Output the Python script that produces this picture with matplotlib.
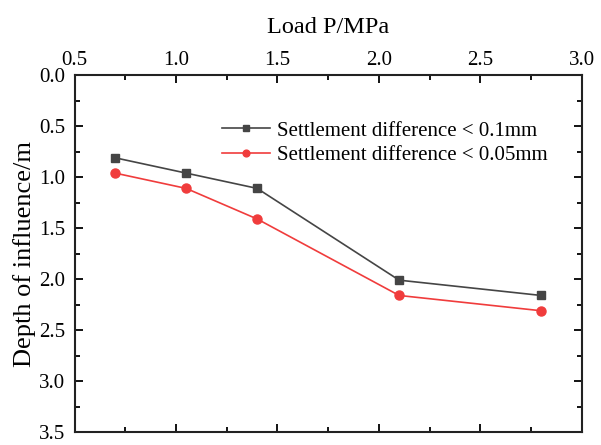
import matplotlib.pyplot as plt
from matplotlib.ticker import MultipleLocator

# Carga aplicada y profundidad de influencia para cada criterio de asentamiento
load = [0.7, 1.05, 1.4, 2.1, 2.8]
depth_01 = [0.81, 0.96, 1.11, 2.01, 2.16]
depth_005 = [0.96, 1.11, 1.41, 2.16, 2.31]
labels = ["Settlement difference < 0.1mm", "Settlement difference < 0.05mm"]

plt.rcParams['font.family'] = ['Liberation Serif', 'DejaVu Serif']

fig = plt.figure(figsize=(6.01, 4.45), dpi=100)
ax = fig.add_axes([0.124, 0.029, 0.844, 0.802])

ax.plot(load, depth_01, color='#454545', marker='s', markersize=6,
        linewidth=1.2, label=labels[0])
ax.plot(load, depth_005, color='#f03c3c', marker='o', markersize=6.5,
        linewidth=1.2, label=labels[1])

ax.set_xlim(0.5, 3.0)
ax.set_ylim(3.5, 0.0)
ax.xaxis.set_major_locator(MultipleLocator(0.5))
ax.xaxis.set_minor_locator(MultipleLocator(0.25))
ax.yaxis.set_major_locator(MultipleLocator(0.5))
ax.yaxis.set_minor_locator(MultipleLocator(0.25))
ax.xaxis.tick_top()
ax.xaxis.set_label_position('top')
ax.xaxis.set_major_formatter(plt.FormatStrFormatter('%.1f'))
ax.yaxis.set_major_formatter(plt.FormatStrFormatter('%.1f'))

ax.tick_params(which='both', direction='in', top=True, bottom=True,
               left=True, right=True, labeltop=True, labelbottom=False,
               labelleft=True, labelright=False, width=1.3, labelsize=15)
ax.tick_params(which='major', length=6)
ax.tick_params(which='minor', length=3.5)
ax.tick_params(axis='x', pad=4)
ax.tick_params(axis='y', pad=6.5)
for s in ax.spines.values():
    s.set_linewidth(1.5)
    s.set_color('#222222')

ax.set_xlabel('Load P/MPa', fontsize=17.5, labelpad=13)
ax.set_ylabel('Depth of influence/m', fontsize=19, labelpad=2)

# leyenda sin marco dentro del area de trazado
ax.legend(loc='upper left', bbox_to_anchor=(0.275, 0.895), frameon=False,
          fontsize=15, handlelength=2.3, handletextpad=0.3, labelspacing=0.25,
          markerscale=0.75, borderaxespad=0)

fig.savefig('out.png', dpi=100)
